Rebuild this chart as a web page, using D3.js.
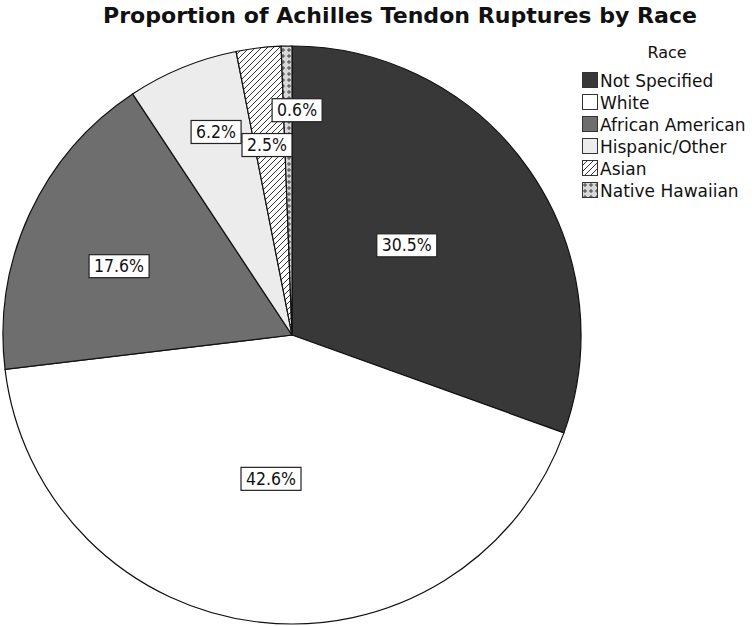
<!DOCTYPE html>
<html>
<head>
<meta charset="utf-8">
<script src="https://cdn.jsdelivr.net/npm/d3@7"></script>
<style>
  body { margin: 0; background: #fff; }
  text { font-family: "DejaVu Sans", sans-serif; fill: #111; }
</style>
</head>
<body>
<svg id="chart" width="755" height="626"></svg>
<script>
// data
var races = ["Not Specified", "White", "African American", "Hispanic/Other", "Asian", "Native Hawaiian"];
var percents = [30.5, 42.6, 17.6, 6.2, 2.5, 0.6];
var fills = ["#383838", "#ffffff", "#6e6e6e", "#ececec", "url(#hatch)", "url(#plus)"];

// label placement: [angle in degrees from 12 o'clock, fraction of radius]
var labelPos = [[52, 0.504], [188.3, 0.503], [291.7, 0.644], [339.5, 0.75], [352.5, 0.663], [1.3, 0.778]];

var svg = d3.select("#chart");
var cx = 292, cy = 335, r = 289;

var defs = svg.append("defs");
var hatch = defs.append("pattern").attr("id", "hatch").attr("patternUnits", "userSpaceOnUse")
    .attr("width", 6).attr("height", 6);
hatch.append("rect").attr("width", 6).attr("height", 6).attr("fill", "#fff");
hatch.append("path").attr("d", "M-1,7 L7,-1 M-1,1 L1,-1 M5,7 L7,5").attr("stroke", "#333").attr("stroke-width", 1);

var plus = defs.append("pattern").attr("id", "plus").attr("patternUnits", "userSpaceOnUse")
    .attr("width", 6).attr("height", 6);
plus.append("rect").attr("width", 6).attr("height", 6).attr("fill", "#d8d8d8");
plus.append("path").attr("d", "M3,1 L3,5 M1,3 L5,3").attr("stroke", "#444").attr("stroke-width", 1);

var data = races.map(function (d, i) { return {race: d, value: percents[i], fill: fills[i]}; });

var pie = d3.pie().sort(null).value(function (d) { return d.value; });
var arc = d3.arc().innerRadius(0).outerRadius(r);

var g = svg.append("g").attr("transform", "translate(" + cx + "," + cy + ")");
var arcs = pie(data);

g.selectAll("path.slice").data(arcs).enter().append("path")
    .attr("class", "slice")
    .attr("d", arc)
    .attr("fill", function (d) { return d.data.fill; })
    .attr("stroke", "#111")
    .attr("stroke-width", 1.2);

// labels
var lab = g.selectAll("g.lab").data(arcs).enter().append("g").attr("class", "lab")
    .attr("transform", function (d, i) {
        var a = labelPos[i][0] * Math.PI / 180, rr = labelPos[i][1] * r;
        return "translate(" + (Math.sin(a) * rr) + "," + (-Math.cos(a) * rr) + ")";
    });
lab.append("text")
    .attr("text-anchor", "middle").attr("dy", "0.36em")
    .attr("font-size", 17)
    .text(function (d) { return d3.format(".1f")(d.data.value) + "%"; })
    .attr("textLength", function () { return this.textContent.length * 10; })
    .attr("lengthAdjust", "spacingAndGlyphs");
lab.each(function () {
    var w = d3.select(this).select("text").text().length * 10;
    d3.select(this).insert("rect", "text")
        .attr("x", -w / 2 - 5).attr("y", -11.5)
        .attr("width", w + 10).attr("height", 23)
        .attr("fill", "#fff").attr("stroke", "#222").attr("stroke-width", 1.2);
});

// title
svg.append("text").attr("x", 400).attr("y", 23).attr("text-anchor", "middle")
    .attr("font-size", 21).attr("font-weight", "bold")
    .attr("textLength", 594).attr("lengthAdjust", "spacingAndGlyphs")
    .text("Proportion of Achilles Tendon Ruptures by Race");

// legend
var leg = svg.append("g").attr("transform", "translate(582,0)");
leg.append("text").attr("x", 85).attr("y", 58).attr("text-anchor", "middle").attr("font-size", 16).text("Race");
var row = leg.selectAll("g.row").data(data).enter().append("g").attr("class", "row")
    .attr("transform", function (d, i) { return "translate(0," + (72 + i * 22) + ")"; });
row.append("rect").attr("x", 0.5).attr("y", 0.5).attr("width", 15).attr("height", 15)
    .attr("fill", function (d) { return d.fill; }).attr("stroke", "#333").attr("stroke-width", 1);
row.append("text").attr("x", 18).attr("y", 14.5).attr("font-size", 17).text(function (d) { return d.race; });
</script>
</body>
</html>
